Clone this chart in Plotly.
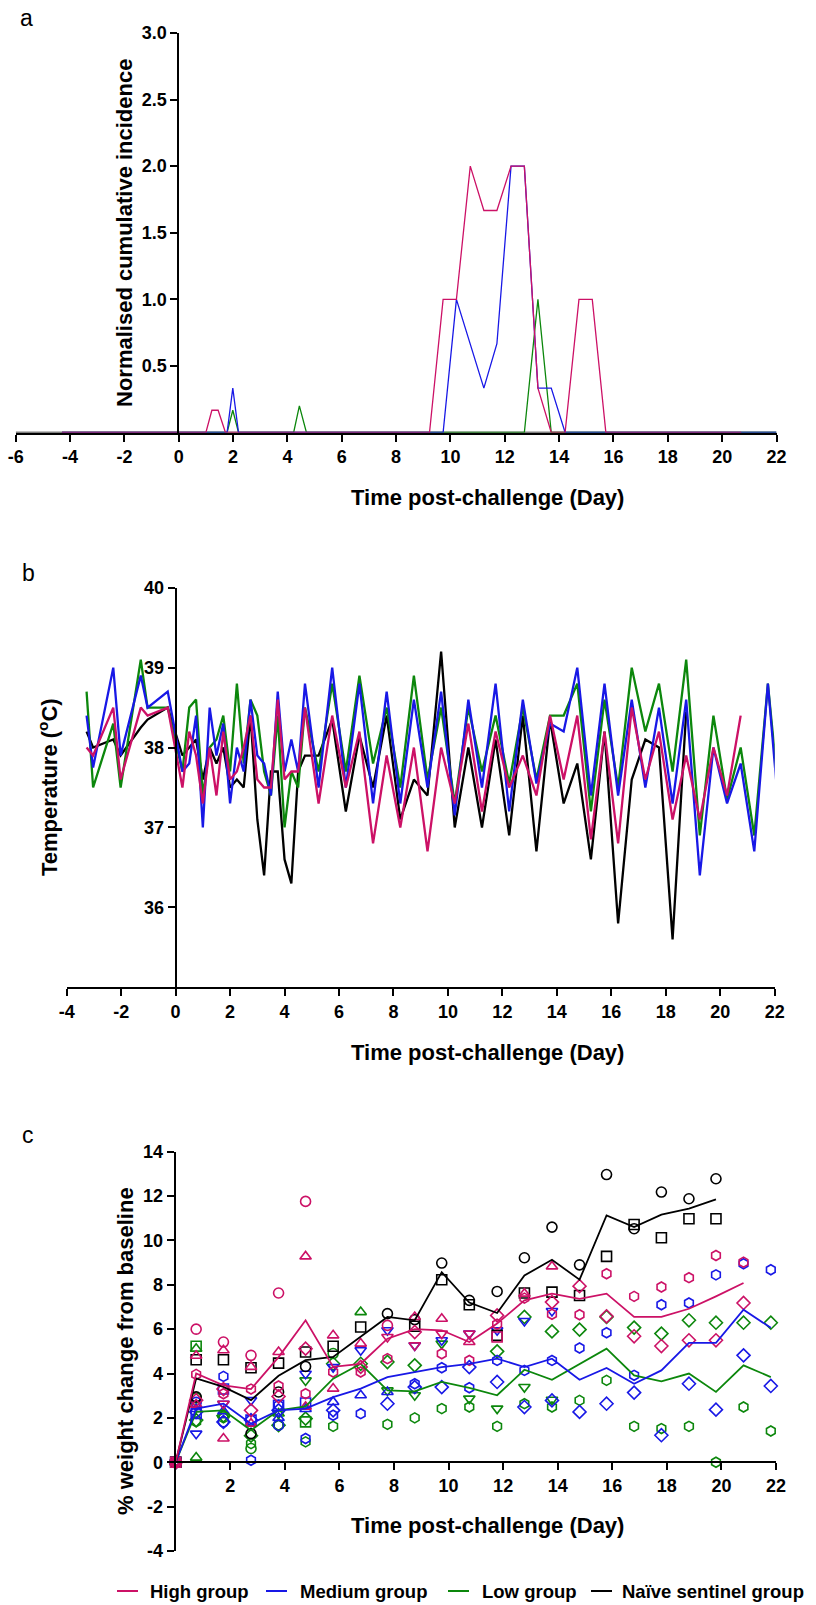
import plotly.graph_objects as go

W, H = 816, 1605
PINK = "#CC1166"
BLUE = "#1818E6"
GREEN = "#0C870C"
BLACK = "#000000"

# ---------------- Panel a: normalised cumulative incidence ----------------
a_high_x = [-4.3, 1.0, 1.22, 1.45, 1.72, 9.23, 9.73, 10.22, 10.73, 11.23, 11.71, 12.23, 12.72, 13.22, 13.71, 14.22, 14.73, 15.22, 15.72, 20.7]
a_high_y = [0, 0, 0.167, 0.167, 0, 0, 1, 1, 2, 1.667, 1.667, 2, 2, 0.333, 0, 0, 1, 1, 0, 0]
a_med_x = [-4.3, 1.78, 1.99, 2.2, 9.73, 10.22, 11.23, 11.71, 12.23, 12.72, 13.22, 13.71, 14.22, 22]
a_med_y = [0, 0, 0.333, 0, 0, 1, 0.333, 0.667, 2, 2, 0.333, 0.333, 0, 0]
a_low_x = [-4.3, 1.78, 1.99, 2.2, 4.23, 4.44, 4.7, 12.72, 13.22, 13.71, 22]
a_low_y = [0, 0, 0.167, 0, 0, 0.2, 0, 0, 1, 0, 0]
a_naive_x = [-6, 22]
a_naive_y = [0, 0]
a_xticks = [-6, -4, -2, 0, 2, 4, 6, 8, 10, 12, 14, 16, 18, 20, 22]
a_yticks = [0.5, 1.0, 1.5, 2.0, 2.5, 3.0]
a_yticktext = ["0.5", "1.0", "1.5", "2.0", "2.5", "3.0"]

# ---------------- Panel b: temperature ----------------
b_x = [-3.27, -3.03, -2.29, -2.02, -1.28, -1.03, -0.29,
       0.25, 0.5, 0.75, 1.0, 1.25, 1.5, 1.75, 2.0, 2.25, 2.5, 2.75, 3.0, 3.25, 3.5, 3.75, 4.0, 4.25, 4.5,
       4.75, 5.25, 5.75, 6.25, 6.75, 7.25, 7.75, 8.25, 8.75, 9.25, 9.75, 10.25, 10.75, 11.25, 11.75,
       12.25, 12.75, 13.25, 13.75, 14.25, 14.75, 15.25, 15.75, 16.25, 16.75, 17.25, 17.75, 18.25, 18.75,
       19.25, 19.75, 20.25, 20.75, 21.25, 21.75, 22.05]
b_medium = [38.4, 37.75, 39.0, 37.9, 38.9, 38.5, 38.7,
            37.7, 37.8, 38.4, 37.0, 38.5, 37.9, 38.3, 37.3, 38.0, 37.7, 38.6, 37.9, 37.8, 37.4, 38.7, 37.7, 38.1, 37.7,
            38.8, 37.5, 39.0, 37.5, 38.8, 37.3, 38.7, 37.3, 38.6, 37.5, 38.7, 37.15, 38.6, 37.5, 38.8,
            37.2, 38.6, 37.55, 38.3, 38.2, 39.0, 37.4, 38.8, 37.4, 38.6, 37.5, 38.5, 37.3, 38.6,
            36.4, 38.0, 37.3, 37.8, 36.7, 38.8, 37.6]
b_low = [38.7, 37.5, 38.3, 37.5, 39.1, 38.5, 38.5,
         37.7, 38.5, 38.6, 37.4, 38.0, 38.1, 38.4, 37.7, 38.8, 37.8, 38.6, 38.4, 37.7, 37.4, 38.4, 37.0, 37.7, 37.5,
         38.5, 37.7, 38.8, 37.7, 38.9, 37.8, 38.5, 37.5, 38.9, 37.6, 38.5, 37.3, 38.5, 37.7, 38.4,
         37.55, 38.5, 37.6, 38.4, 38.4, 38.8, 37.2, 38.6, 37.5, 39.0, 38.2, 38.8, 37.7, 39.1,
         36.9, 38.4, 37.35, 38.0, 36.9, 38.8, 37.75]
b_high = [38.0, 37.9, 38.5, 37.6, 38.5, 38.4, 38.5,
          37.5, 38.2, 37.9, 37.3, 38.0, 37.4, 38.2, 37.6, 37.7, 38.0, 38.4, 37.6, 37.5, 37.5, 38.6, 37.6, 37.7, 37.7,
          38.5, 37.3, 38.4, 37.5, 38.2, 36.8, 37.9, 37.0, 38.0, 36.7, 38.0, 37.3, 38.3, 37.2, 38.2,
          37.5, 37.9, 37.4, 38.4, 37.6, 38.4, 36.85, 38.2, 36.8, 38.5, 37.6, 38.2, 37.1, 37.9,
          37.1, 38.0, 37.4, 38.4]
b_naive = [38.2, 38.0, 38.1, 37.9, 38.25, 38.35, 38.5,
           37.9, 38.0, 38.1, 37.6, 38.0, 37.8, 38.0, 37.5, 37.6, 37.5, 38.4, 37.1, 36.4, 37.7, 37.7, 36.6, 36.3, 37.7,
           37.9, 37.9, 38.35, 37.2, 38.15, 37.5, 38.4, 37.1, 37.6, 37.4, 39.2, 37.0, 38.0, 37.0, 38.1,
           36.9, 38.4, 36.7, 38.35, 37.3, 37.8, 36.6, 38.2, 35.8, 37.6, 38.1, 38.0, 35.6, 38.45]
b_xticks = [-4, -2, 0, 2, 4, 6, 8, 10, 12, 14, 16, 18, 20, 22]
b_yticks = [36, 37, 38, 39, 40]

# ---------------- Panel c: weight change ----------------
c_days = [0, 0.75, 1.75, 2.76, 3.77, 4.76, 5.77, 6.78, 7.76, 8.76, 9.75, 10.76, 11.78,
          12.78, 13.79, 14.8, 15.79, 16.8, 17.8, 18.81, 19.8, 20.81, 21.81]
N = None
hi_mean = [0, 4.0, 3.47, 3.3, 4.74, 6.4, 4.3, 4.44, 5.57, 6.0, 5.95, 5.42, 6.25, 7.3, 7.6, 7.37, 7.6, 6.55, 6.55, 6.92, 7.48, 8.08, N]
me_mean = [0, 2.42, 2.64, 1.74, 2.34, 2.42, 2.94, 3.32, 3.84, 4.05, 4.29, 4.44, 4.67, 4.29, 4.67, 3.72, 4.25, 3.54, 4.14, 5.38, 5.38, 6.88, 6.06]
lo_mean = [0, 2.27, 2.34, 1.44, 2.34, 2.52, 3.77, 4.44, 3.24, 3.2, 3.62, 3.35, 3.02, 4.17, 3.72, 4.44, 5.12, 3.92, 3.65, 4.0, 3.17, 4.37, 3.84]
na_mean = [0, 3.78, 3.4, 2.8, 3.9, 4.6, 4.75, 5.65, 6.55, 6.4, 8.57, 7.2, 6.73, 8.42, 9.13, 8.23, 11.13, 10.6, 11.16, 11.43, 11.85, N, N]

hi_circle = [0, 6.0, 5.42, 4.82, 7.63, 11.76, N, N, 6.17, N, N, N, N, N, N, N, N, N, N, N, N, N, N]
hi_tri_up = [0, 4.8, 5.05, 4.3, 4.97, 9.28, 5.72, 5.35, N, 6.55, 6.47, 5.42, N, 7.6, 8.83, N, N, N, N, N, N, N, N]
hi_tri_up2 = [0, 2.6, 1.07, 1.74, N, 2.5, 3.32, N, N, N, N, N, N, N, N, N, N, N, N, N, N, N, N]
hi_hex = [0, 3.96, 3.09, 3.3, 3.44, 3.09, 4.07, 4.07, 4.67, N, 4.89, 4.59, 6.22, 7.4, 6.67, 6.65, 8.5, 7.48, 7.9, 8.32, 9.32, 9.02, N]
hi_diamond = [0, 2.8, 3.3, 2.34, 2.97, 5.12, N, 4.3, N, 5.87, N, N, 6.62, N, 7.22, 7.94, 6.58, 5.68, 5.24, 5.5, 5.5, 7.18, N]
hi_tri_down = [0, N, 2.64, N, N, N, N, N, 5.65, 5.27, 5.8, 5.8, N, N, N, N, N, N, N, N, N, N, N]
hi_square = [0, N, N, N, N, N, N, N, N, N, N, N, 5.65, N, N, N, N, N, N, N, N, N, N]

me_hex = [0, 2.57, 3.87, 0.09, 2.57, 1.07, 2.12, 2.19, N, 3.54, 4.26, 3.36, 4.59, 4.14, 4.59, 5.15, 5.84, 3.92, 7.1, 7.18, 8.45, 8.95, 8.68]
me_diamond = [0, 2.27, 1.82, 1.9, 2.34, N, 2.34, N, 2.64, 3.39, 3.39, 4.29, 3.62, 2.49, 2.79, 2.27, 2.64, 3.14, 1.22, 3.54, 2.37, 4.82, 3.44]
me_tri_down = [0, 1.29, 2.64, 2.8, N, 3.99, 4.29, 5.05, 5.95, 5.27, 5.5, 5.8, 5.95, 6.37, 6.82, N, N, N, N, N, N, N, N]
me_tri_up = [0, 2.4, 2.3, N, 2.0, 2.4, 2.72, 3.02, 3.17, N, N, N, N, N, N, N, N, N, N, N, N, N, N]
me_square = [0, 2.2, 3.3, 1.9, 2.57, 2.67, N, N, N, N, N, N, N, N, N, N, N, N, N, N, N, N, N]
me_circle = [0, 2.7, 1.82, N, 1.67, N, N, N, N, N, N, N, N, N, N, N, N, N, N, N, N, N, N]

lo_hex = [0, 1.82, 2.0, 0.84, 1.67, 0.92, 1.62, N, 1.71, 2.0, 2.42, 2.49, 1.62, 2.64, 2.49, 2.79, 3.69, 1.62, 1.52, 1.62, 0.0, 2.49, 1.41]
lo_diamond = [0, 1.9, 2.1, 1.2, 1.67, 1.97, 4.44, 4.44, 4.52, 4.37, N, N, 5.0, 6.55, 5.9, 5.98, 6.55, 6.07, 5.8, 6.4, 6.29, 6.29, 6.29]
lo_tri_down = [0, N, N, N, 2.2, 3.69, N, N, 3.24, 3.02, 5.35, 2.87, 2.42, 3.39, 2.82, N, N, N, N, N, N, N, N]
lo_tri_up = [0, 5.12, 2.12, N, 2.2, N, N, 6.77, N, N, N, N, N, N, N, N, N, N, N, N, N, N, N]
lo_tri_up2 = [0, 0.21, N, N, N, N, N, N, N, N, N, N, N, N, N, N, N, N, N, N, N, N, N]
lo_square = [0, 5.23, N, N, N, 1.82, N, N, N, N, N, N, N, N, N, N, N, N, N, N, N, N, N]
lo_circle = [0, 2.9, N, 0.62, N, N, 4.9, N, N, N, N, N, N, N, N, N, N, N, N, N, N, N, N]

na_circle = [0, 2.95, N, 1.29, 3.17, 4.32, N, N, 6.7, 6.43, 8.98, 7.3, 7.7, 9.22, 10.6, 8.9, 12.97, 10.53, 12.18, 11.88, 12.78, N, N]
na_square = [0, 4.62, 4.62, 4.26, 4.47, 4.97, 5.23, 6.1, N, 6.13, 8.23, 7.1, 5.72, 7.63, 7.67, 7.52, 9.28, 10.72, 10.12, 10.98, 10.98, N, N]

c_xticks = [2, 4, 6, 8, 10, 12, 14, 16, 18, 20, 22]
c_yticks = [-4, -2, 0, 2, 4, 6, 8, 10, 12, 14]

legend_names = ["High group", "Medium group", "Low group", "Naïve sentinel group"]
legend_colors = [PINK, BLUE, GREEN, BLACK]


def hyph(vals):
    return [str(v).replace("−", "-") for v in vals]


# ---------------- Figure ----------------
fig = go.Figure()

# panel a
for xs, ys, col in [(a_naive_x, a_naive_y, BLACK), (a_low_x, a_low_y, GREEN),
                    (a_med_x, a_med_y, BLUE), (a_high_x, a_high_y, PINK)]:
    fig.add_trace(go.Scatter(x=xs, y=ys, mode="lines", line=dict(color=col, width=1.3),
                             xaxis="x", yaxis="y", showlegend=False, hoverinfo="skip"))

# panel b
for ys, col in [(b_naive, BLACK), (b_low, GREEN), (b_medium, BLUE), (b_high, PINK)]:
    fig.add_trace(go.Scatter(x=b_x[:len(ys)], y=ys, mode="lines", line=dict(color=col, width=2.3),
                             xaxis="x2", yaxis="y2", showlegend=False, hoverinfo="skip"))

# panel c markers
marker_sets = [
    (GREEN, [(lo_hex, "hexagon-open"), (lo_diamond, "diamond-open"), (lo_tri_down, "triangle-down-open"),
             (lo_tri_up, "triangle-up-open"), (lo_tri_up2, "triangle-up-open"), (lo_square, "square-open"),
             (lo_circle, "circle-open")]),
    (BLUE, [(me_hex, "hexagon-open"), (me_diamond, "diamond-open"), (me_tri_down, "triangle-down-open"),
            (me_tri_up, "triangle-up-open"), (me_square, "square-open"), (me_circle, "circle-open")]),
    (BLACK, [(na_circle, "circle-open"), (na_square, "square-open")]),
    (PINK, [(hi_hex, "hexagon-open"), (hi_diamond, "diamond-open"), (hi_tri_down, "triangle-down-open"),
            (hi_tri_up, "triangle-up-open"), (hi_tri_up2, "triangle-up-open"), (hi_circle, "circle-open"),
            (hi_square, "square-open")]),
]
for col, sets in marker_sets:
    for vals, sym in sets:
        fig.add_trace(go.Scatter(x=c_days, y=vals, mode="markers",
                                 marker=dict(symbol=sym, size=10, color=col, line=dict(color=col, width=1.6)),
                                 cliponaxis=False, xaxis="x3", yaxis="y3", showlegend=False, hoverinfo="skip"))
for ys, col in [(lo_mean, GREEN), (me_mean, BLUE), (na_mean, BLACK), (hi_mean, PINK)]:
    fig.add_trace(go.Scatter(x=c_days, y=ys, mode="lines", line=dict(color=col, width=1.8),
                             connectgaps=False, xaxis="x3", yaxis="y3", showlegend=False, hoverinfo="skip"))

FONT = "Liberation Sans, Arial, sans-serif"
tickfont = dict(family=FONT, size=18, color="black", weight="bold")
ax = dict(showgrid=False, zeroline=False, showline=True, linecolor="black", linewidth=2,
          ticks="outside", ticklen=7, tickwidth=2, tickcolor="black", tickfont=tickfont,
          fixedrange=True, automargin=False)


def fy(p):
    return 1 - p / H


fig.update_layout(
    width=W, height=H, paper_bgcolor="white", plot_bgcolor="rgba(0,0,0,0)",
    margin=dict(l=0, r=0, t=0, b=0, autoexpand=False), showlegend=False,
    xaxis=dict(ax, domain=[15.7 / W, 776.5 / W], range=[-6, 22], anchor="y",
               tickvals=a_xticks, ticktext=hyph(a_xticks), layer="below traces"),
    yaxis=dict(ax, domain=[fy(432.5), fy(33)], range=[0, 3], anchor="free", position=178.3 / W,
               tickvals=a_yticks, ticktext=a_yticktext),
    xaxis2=dict(ax, domain=[66.7 / W, 774.7 / W], range=[-4, 22], anchor="y2",
                tickvals=b_xticks, ticktext=hyph(b_xticks)),
    yaxis2=dict(ax, domain=[fy(987.3), fy(587.7)], range=[35, 40], anchor="free", position=175.6 / W,
                tickvals=b_yticks, ticktext=hyph(b_yticks)),
    xaxis3=dict(ax, domain=[175.7 / W, 776 / W], range=[0, 22], anchor="free", position=fy(1462.3),
                tickvals=c_xticks, ticktext=hyph(c_xticks)),
    yaxis3=dict(ax, domain=[fy(1551), fy(1151.7)], range=[-4, 14], anchor="x3",
                tickvals=c_yticks, ticktext=hyph(c_yticks)),
)

title_font = dict(family=FONT, size=22, color="black", weight="bold")
letter_font = dict(family=FONT, size=23, color="black")
ann = []
for txt, x, y in [("a", 26, 18), ("b", 28, 573), ("c", 28, 1135)]:
    ann.append(dict(text=txt, x=x / W, y=fy(y), xref="paper", yref="paper", showarrow=False,
                    xanchor="center", yanchor="middle", font=letter_font))
for y in [498, 1052, 1525]:
    ann.append(dict(text="Time post-challenge (Day)", x=487 / W, y=fy(y), xref="paper", yref="paper",
                    showarrow=False, xanchor="center", yanchor="middle", font=title_font))
for txt, x, y in [("Normalised cumulative incidence", 124, 233),
                  ("Temperature (<sup>o</sup>C)", 48, 787),
                  ("% weight change from baseline", 125, 1351)]:
    ann.append(dict(text=txt, x=x / W, y=fy(y), xref="paper", yref="paper", showarrow=False,
                    textangle=-90, xanchor="center", yanchor="middle", font=title_font))

shapes = []
leg_y = 1591
leg_line_x = [117, 266, 448, 591]
leg_text_x = [148, 298, 480, 620]
for name, col, lx, tx in zip(legend_names, legend_colors, leg_line_x, leg_text_x):
    shapes.append(dict(type="line", xref="paper", yref="paper", x0=lx / W, x1=(lx + 21) / W,
                       y0=fy(leg_y), y1=fy(leg_y), line=dict(color=col, width=2)))
    ann.append(dict(text=name, x=tx / W, y=fy(leg_y), xref="paper", yref="paper", showarrow=False,
                    xanchor="left", yanchor="middle",
                    font=dict(family=FONT, size=18.5, color="black", weight="bold")))

fig.update_layout(annotations=ann, shapes=shapes)
fig.write_html("out.html", config={"displayModeBar": False},
               post_script="document.body.style.margin='0';document.body.style.overflow='hidden';")
